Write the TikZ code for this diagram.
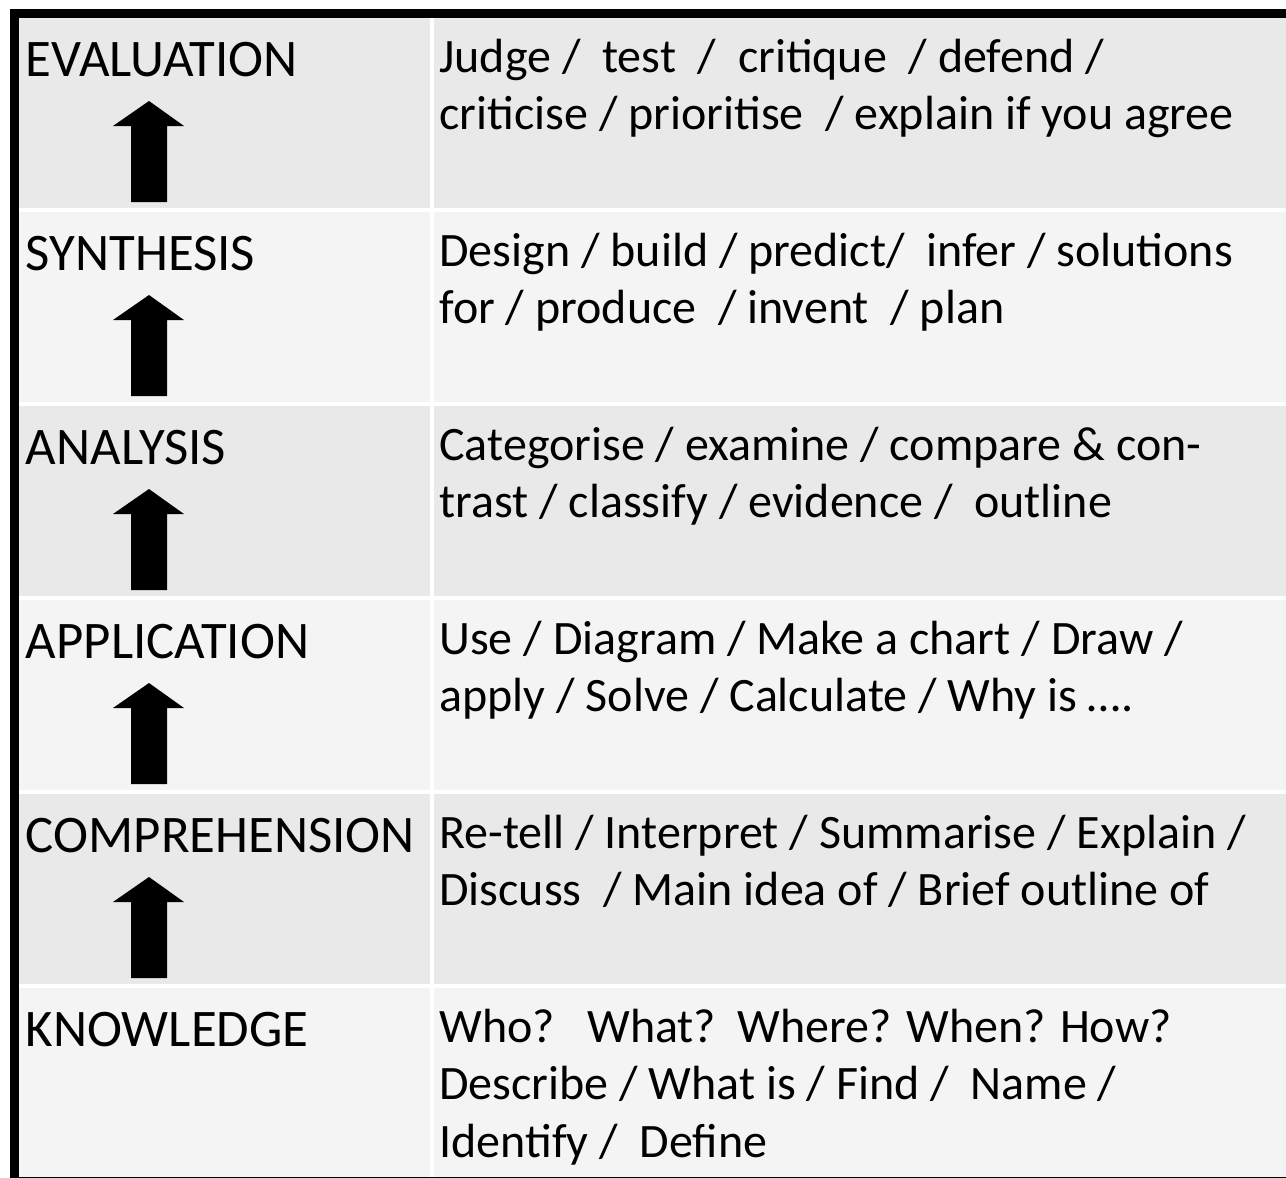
\documentclass[tikz,border=0pt]{standalone}
\usepackage{fontspec}
\setmainfont{Carlito}
\definecolor{rowdark}{HTML}{E9E9E9}
\definecolor{rowlight}{HTML}{F4F4F4}
\newcommand{\vlines}[1]{\begin{tabular}[t]{@{}l@{}}#1\end{tabular}}
\tikzset{
  lvl/.style={anchor=base west, inner sep=0pt, font=\fontsize{26.4}{29}\selectfont},
  verbs/.style={anchor=base west, inner sep=0pt, font=\fontsize{24}{28.75}\selectfont},
  uparr/.style={fill=black}
}

\begin{document}
\begin{tikzpicture}[x=0.5pt,y=-0.5pt]
\useasboundingbox[fill=white] (0,0) rectangle (1286,1178);
% rows of the table
\foreach \i/\col in {0/rowdark,1/rowlight,2/rowdark,3/rowlight,4/rowdark,5/rowlight}{
  \pgfmathsetmacro{\rtop}{18+194*\i}
  \fill[\col] (19,\rtop) rectangle (430,\rtop+190);
  \fill[\col] (434,\rtop) rectangle (1286,\rtop+190);
}
% block arrows
\foreach \i in {0,...,4}{
  \pgfmathsetmacro{\rtop}{18+194*\i}
  \fill[uparr] (149,\rtop+83) -- (184,\rtop+108) -- (167,\rtop+108) -- (167,\rtop+184)
    -- (131,\rtop+184) -- (131,\rtop+108) -- (113,\rtop+108) -- cycle;
}
% frame
\fill (10,9) rectangle (1286,18);
\fill (10,9) rectangle (19,1178);
\fill (10,1176.6) rectangle (1286,1178);

\node[lvl] (eval) at (25.5,76) {EVALUATION};
\node[lvl] (synth) at (25.5,270) {SYNTHESIS};
\node[lvl] (anal) at (25.5,464) {ANALYSIS};
\node[lvl] (appl) at (25.5,658) {APPLICATION};
\node[lvl] (comp) at (25.5,852) {COMPREHENSION};
\node[lvl] (know) at (25.5,1046) {KNOWLEDGE};

\node[verbs] (evalv) at (439,72) {\vlines{Judge /~~test~~/~~critique~~/ defend /\\criticise / prioritise~~/ explain if you agree}};
\node[verbs] (synthv) at (439,266) {\vlines{Design / build / predict/~~infer / solutions\\for / produce~~/ invent~~/ plan}};
\node[verbs] (analv) at (439,460) {\vlines{Categorise / examine / compare \& con-\\trast / classify / evidence /~~outline}};
\node[verbs] (applv) at (439,654) {\vlines{Use / Diagram / Make a chart / Draw /\\apply / Solve / Calculate / Why is ….}};
\node[verbs] (compv) at (439,848) {\vlines{Re-tell / Interpret / Summarise / Explain /\\Discuss~~/ Main idea of / Brief outline of}};
\node[verbs] (knowv) at (439,1042) {\vlines{Who?~~~What?~~Where? When? How?\\Describe / What is / Find /~~Name /\\Identify /~~Define}};
\end{tikzpicture}
\end{document}
